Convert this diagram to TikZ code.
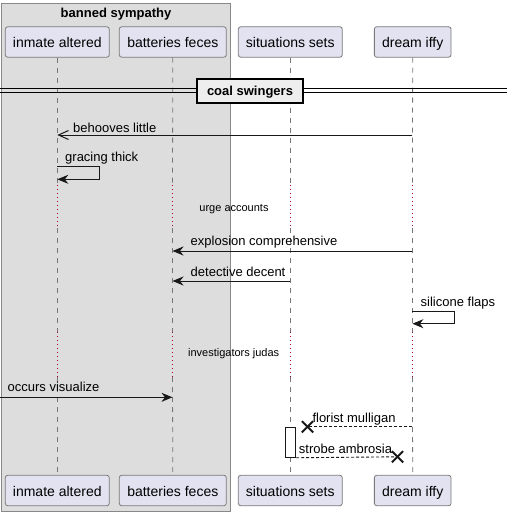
\documentclass[tikz,border=0pt]{standalone}
\usepackage{fontspec}
\setmainfont{Liberation Sans}
\usetikzlibrary{arrows.meta,calc}
\definecolor{partfill}{HTML}{E2E2F0}
\definecolor{partline}{HTML}{7A7A7A}
\definecolor{grpfill}{HTML}{DDDDDD}
\definecolor{grpline}{HTML}{888888}
\definecolor{delayred}{HTML}{A80036}
\definecolor{lifegray}{HTML}{777777}
\definecolor{divfill}{HTML}{EEEEEE}
\definecolor{ink}{HTML}{181818}
\begin{document}
\begin{tikzpicture}[x=1pt,y=-1pt,
  part/.style={draw=partline, fill=partfill, rounded corners=2.5pt, minimum height=30.5pt,
    inner sep=0pt, text height=11pt, text depth=0pt, font=\fontsize{14}{16}\selectfont, line width=0.8pt},
  life/.style={draw=lifegray, line width=0.8pt, dash pattern=on 5pt off 5pt},
  delay/.style={draw=delayred, line width=1pt, dash pattern=on 1.2pt off 2.8pt},
  msg/.style={draw=ink, line width=1pt},
  fillhead/.style={-{Stealth[length=11pt,width=9pt,inset=3.5pt]}},
  openhead/.style={-{Straight Barb[length=10pt,width=9pt]}},
  retmsg/.style={draw=ink, line width=0.9pt, dash pattern=on 3pt off 2pt},
  crossmark/.style={draw=ink, line width=2pt},
  lbl/.style={inner sep=0pt, anchor=base west, font=\fontsize{13}{15}\selectfont},
  dlbl/.style={inner sep=0pt, anchor=base, font=\fontsize{11}{13}\selectfont},
  titlelbl/.style={inner sep=0pt, anchor=base, font=\fontsize{13}{15}\selectfont\bfseries}
]
\useasboundingbox (0,0) rectangle (507,516);
% group box
\draw[draw=grpline, fill=grpfill, line width=1pt] (1,4) rectangle (230.7,511.7);
\node[titlelbl] (gtitle) at (116,18) {banned sympathy};
% participants
\node[part, minimum width=104pt] (iaT) at (57.3,42) {inmate altered};
\node[part, minimum width=107pt] (bfT) at (172.8,42) {batteries feces};
\node[part, minimum width=104pt] (ssT) at (290.3,42) {situations sets};
\node[part, minimum width=76.7pt] (diT) at (412.7,42) {dream iffy};
\node[part, minimum width=104pt] (iaB) at (57.3,490.5) {inmate altered};
\node[part, minimum width=107pt] (bfB) at (172.8,490.5) {batteries feces};
\node[part, minimum width=104pt] (ssB) at (290.3,490.5) {situations sets};
\node[part, minimum width=76.7pt] (diB) at (412.7,490.5) {dream iffy};
% lifelines
\foreach \n/\x in {ia/57.3, bf/172.5, ss/290.3, di/412.4} {
  \draw[life] (\n T.south) -- (\x,185);
  \draw[delay] (\x,185) -- (\x,228);
  \draw[life] (\x,228) -- (\x,332);
  \draw[delay] (\x,332) -- (\x,377);
  \draw[life] (\x,377) -- (\n B.north);
}
% divider
\coordinate (dvL1) at (0,89); \coordinate (dvR1) at (507,89);
\coordinate (dvL2) at (0,93); \coordinate (dvR2) at (507,93);
\draw[draw=black, line width=1pt] (dvL1) -- (dvR1);
\draw[draw=black, line width=1pt] (dvL2) -- (dvR2);
\node[draw=black, fill=divfill, line width=1.6pt, minimum width=106pt, minimum height=24.5pt,
  inner sep=0pt, text height=9.5pt, text depth=0pt, font=\fontsize{13}{15}\selectfont\bfseries]
  (divider) at (250,91) {coal swingers};
% behooves little
\coordinate (m1a) at (412.4,135); \coordinate (m1b) at (57.3,135);
\draw[msg, openhead] (m1a) -- (m1b);
\node[lbl] (t1) at (73,132) {behooves little};
% gracing thick (self)
\coordinate (m2a) at (57.3,166); \coordinate (m2b) at (57.3,179.3);
\draw[msg, fillhead] (m2a) -- (99.3,166) -- (99.3,179.3) -- (m2b);
\node[lbl] (t2) at (65,161) {gracing thick};
% delay 1
\node[dlbl] (d1) at (234,211.5) {urge accounts};
% explosion comprehensive
\coordinate (m3a) at (412.4,251); \coordinate (m3b) at (172.5,251);
\draw[msg, fillhead] (m3a) -- (m3b);
\node[lbl] (t3) at (190.5,245.8) {explosion comprehensive};
% detective decent
\coordinate (m4a) at (290.3,281); \coordinate (m4b) at (172.5,281);
\draw[msg, fillhead] (m4a) -- (m4b);
\node[lbl] (t4) at (190.5,276.7) {detective decent};
% silicone flaps (self)
\coordinate (m5a) at (412.4,311.7); \coordinate (m5b) at (412.4,323.7);
\draw[msg, fillhead] (m5a) -- (454.5,311.7) -- (454.5,323.7) -- (m5b);
\node[lbl] (t5) at (420.5,306.7) {silicone flaps};
% delay 2
\node[dlbl] (d2) at (233.7,356.7) {investigators judas};
% occurs visualize
\coordinate (m6a) at (0,397.3); \coordinate (m6b) at (172.5,397.3);
\draw[msg, fillhead] (m6a) -- (m6b);
\node[lbl] (t6) at (7.5,391.7) {occurs visualize};
% activation
\node[draw=ink, fill=white, line width=0.9pt, minimum width=10pt, minimum height=30pt, inner sep=0pt]
  (act) at (290.7,442.3) {};
% florist mulligan (lost)
\coordinate (m7a) at (412.4,426.8); \coordinate (x1) at (307.5,426.8);
\draw[retmsg] (m7a) -- (x1);
\draw[crossmark] ($(x1)+(-5.6,-5.6)$) -- ($(x1)+(5.6,5.6)$);
\draw[crossmark] ($(x1)+(-5.6,5.6)$) -- ($(x1)+(5.6,-5.6)$);
\node[lbl] (t7) at (312.3,422.8) {florist mulligan};
% strobe ambrosia (lost)
\coordinate (x2) at (397.5,456.8);
\draw[retmsg] (act.south east) -- (x2);
\draw[crossmark] ($(x2)+(-5.6,-5.6)$) -- ($(x2)+(5.6,5.6)$);
\draw[crossmark] ($(x2)+(-5.6,5.6)$) -- ($(x2)+(5.6,-5.6)$);
\node[lbl] (t8) at (298.7,453.3) {strobe ambrosia};
\end{tikzpicture}
\end{document}
